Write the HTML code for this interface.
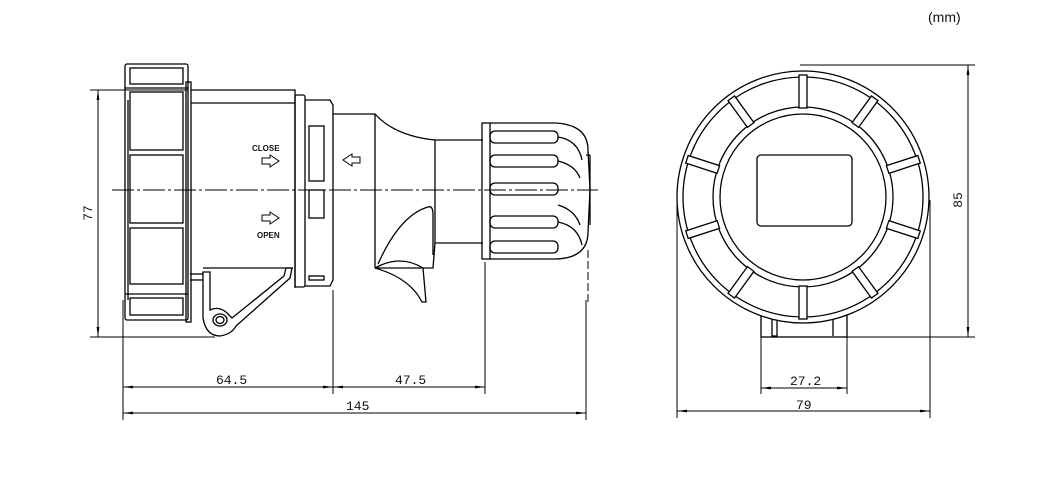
<!DOCTYPE html>
<html><head><meta charset="utf-8"><style>
html,body{margin:0;padding:0;background:#fff;}
svg{display:block}
text{font-family:"Liberation Mono",monospace;font-size:13px;fill:#111}
</style></head><body>
<svg width="1055" height="500" viewBox="0 0 1055 500" xmlns="http://www.w3.org/2000/svg">
<defs>
<marker id="a" viewBox="0 0 10 4" refX="10" refY="2" markerWidth="14" markerHeight="4" markerUnits="userSpaceOnUse" orient="auto-start-reverse"><path d="M0,0.6 L10,2 L0,3.4z" fill="#000"/></marker>
</defs>
<text x="928" y="22" style="font-family:'Liberation Sans',sans-serif;font-size:14px">(mm)</text>

<!-- ===== LEFT VIEW ===== -->
<g fill="none" stroke="#000" stroke-width="1.3">
<rect x="125" y="64" width="63" height="256" rx="2"/>
<rect x="130" y="68" width="53" height="16"/>
<line x1="125" y1="88" x2="188" y2="88"/>
<rect x="130" y="92" width="53" height="58"/>
<rect x="130" y="155" width="53" height="68"/>
<rect x="130" y="228" width="53" height="56"/>
<line x1="125" y1="294" x2="188" y2="294"/>
<rect x="130" y="298" width="53" height="17"/>
<line x1="128" y1="100" x2="128" y2="300"/>
<rect x="186" y="82" width="5" height="240"/>
<polyline points="191,90 295,90 295,288"/>
<line x1="191" y1="103" x2="295" y2="103"/>
<line x1="203" y1="268" x2="293" y2="268"/>
<rect x="295" y="95" width="10" height="192" rx="2"/>
<path d="M305,100 L330,100 L333,105 L333,280 L330,286 L305,286"/>
<rect x="309" y="126" width="15" height="55"/>
<rect x="309" y="190" width="15" height="28"/>
<rect x="309" y="276" width="15" height="4"/>
<path d="M203,272 L203,318 Q206,336 220,336 Q232,334 236,326 L290,278 L292,268 L286,268 L284,276 L232,318 L226,312 Q218,306 210,310 L210,272 Z"/>
<ellipse cx="220" cy="320" rx="7" ry="6"/>
<ellipse cx="220" cy="320" rx="4" ry="3.5"/>
<line x1="190" y1="274" x2="203" y2="274"/>
<line x1="190" y1="280" x2="203" y2="280"/>
<path d="M333,114 L375,114 Q395,136 435,140 L435,243 L433,268 L375,268"/>
<line x1="375" y1="114" x2="375" y2="268"/>
<path d="M375,268 Q400,254 423,268 L426,302 L422,302 Q410,278 375,268"/>
<path d="M378,264 Q400,215 428,207 Q433,205 433,215 L433,255"/>
<line x1="435" y1="140" x2="483" y2="140"/>
<line x1="435" y1="243" x2="483" y2="243"/>
<rect x="482" y="123" width="8" height="136"/>
<path d="M490,123 L556,123 Q588,125 588,150 L590,190 L588,232 Q588,258 556,259 L490,259"/>
<rect x="490" y="131" width="68" height="12" rx="5"/>
<rect x="490" y="155" width="68" height="12" rx="5"/>
<rect x="490" y="183" width="68" height="12" rx="5"/>
<rect x="490" y="216" width="68" height="12" rx="5"/>
<rect x="490" y="241" width="68" height="12" rx="5"/>
<path d="M558,137 Q578,140 582,160 M558,161 Q575,165 580,178 M558,205 Q575,210 580,225 M558,222 Q578,226 582,245"/>
<line x1="586" y1="155" x2="590" y2="155"/><line x1="590" y1="155" x2="590" y2="225"/>
<path d="M262,158 L270,158 L270,155 L279,161 L270,167 L270,164 L262,164 Z" stroke-width="1"/>
<path d="M262,215 L270,215 L270,212 L279,218 L270,224 L270,221 L262,221 Z" stroke-width="1"/>
<path d="M360,157 L352,157 L352,154 L343,160 L352,166 L352,163 L360,163 Z" stroke-width="1"/>
</g>
<text x="252" y="151" style="font-family:'Liberation Sans',sans-serif;font-size:8px;font-weight:bold">CLOSE</text>
<text x="257" y="238" style="font-family:'Liberation Sans',sans-serif;font-size:8px;font-weight:bold">OPEN</text>
<line x1="112" y1="190" x2="598" y2="190" stroke="#000" stroke-width="1" stroke-dasharray="22,3,3,3"/>
<line x1="588" y1="250" x2="588" y2="305" stroke="#000" stroke-width="1" stroke-dasharray="8,3"/>

<g stroke="#000" stroke-width="1" fill="none">
<line x1="90" y1="90" x2="188" y2="90"/>
<line x1="90" y1="337" x2="215" y2="337"/>
<line x1="98" y1="90" x2="98" y2="337" marker-start="url(#a)" marker-end="url(#a)"/>
<line x1="123" y1="300" x2="123" y2="420"/>
<line x1="333" y1="290" x2="333" y2="394"/>
<line x1="485" y1="262" x2="485" y2="394"/>
<line x1="586" y1="300" x2="586" y2="420"/>
<line x1="123" y1="387" x2="333" y2="387" marker-start="url(#a)" marker-end="url(#a)"/>
<line x1="333" y1="387" x2="485" y2="387" marker-start="url(#a)" marker-end="url(#a)"/>
<line x1="123" y1="413" x2="586" y2="413" marker-start="url(#a)" marker-end="url(#a)"/>
</g>
<text x="216" y="384">64.5</text>
<text x="395" y="384">47.5</text>
<text x="346" y="410">145</text>
<text transform="translate(92,213) rotate(-90)" text-anchor="middle">77</text>

<!-- ===== RIGHT VIEW ===== -->
<g fill="none" stroke="#000" stroke-width="1.3">
<rect x="761" y="312" width="86" height="25" fill="#fff"/>
<rect x="772" y="316" width="5" height="20"/>
<line x1="833" y1="316" x2="833" y2="336"/>
<circle cx="803" cy="197" r="126" fill="#fff"/>
<circle cx="803" cy="197" r="120"/>
<circle cx="803" cy="197" r="90"/>
<circle cx="803" cy="197" r="83"/>
<rect x="757" y="155" width="95" height="71" rx="4"/>
<g id="sp"><rect x="799" y="75" width="8" height="33" fill="#fff"/></g>
<use href="#sp" transform="rotate(36 803 197)"/>
<use href="#sp" transform="rotate(72 803 197)"/>
<use href="#sp" transform="rotate(108 803 197)"/>
<use href="#sp" transform="rotate(144 803 197)"/>
<use href="#sp" transform="rotate(180 803 197)"/>
<use href="#sp" transform="rotate(216 803 197)"/>
<use href="#sp" transform="rotate(252 803 197)"/>
<use href="#sp" transform="rotate(288 803 197)"/>
<use href="#sp" transform="rotate(324 803 197)"/>
</g>
<g stroke="#000" stroke-width="1" fill="none">
<line x1="800" y1="65" x2="975" y2="65"/>
<line x1="847" y1="337" x2="975" y2="337"/>
<line x1="968" y1="65" x2="968" y2="337" marker-start="url(#a)" marker-end="url(#a)"/>
<line x1="677" y1="200" x2="677" y2="418"/>
<line x1="930" y1="200" x2="930" y2="418"/>
<line x1="761" y1="337" x2="761" y2="394"/>
<line x1="847" y1="337" x2="847" y2="394"/>
<line x1="761" y1="388" x2="847" y2="388" marker-start="url(#a)" marker-end="url(#a)"/>
<line x1="677" y1="411" x2="930" y2="411" marker-start="url(#a)" marker-end="url(#a)"/>
</g>
<text x="790" y="385">27.2</text>
<text x="796" y="409">79</text>
<text transform="translate(962,200) rotate(-90)" text-anchor="middle">85</text>
</svg>
</body></html>
